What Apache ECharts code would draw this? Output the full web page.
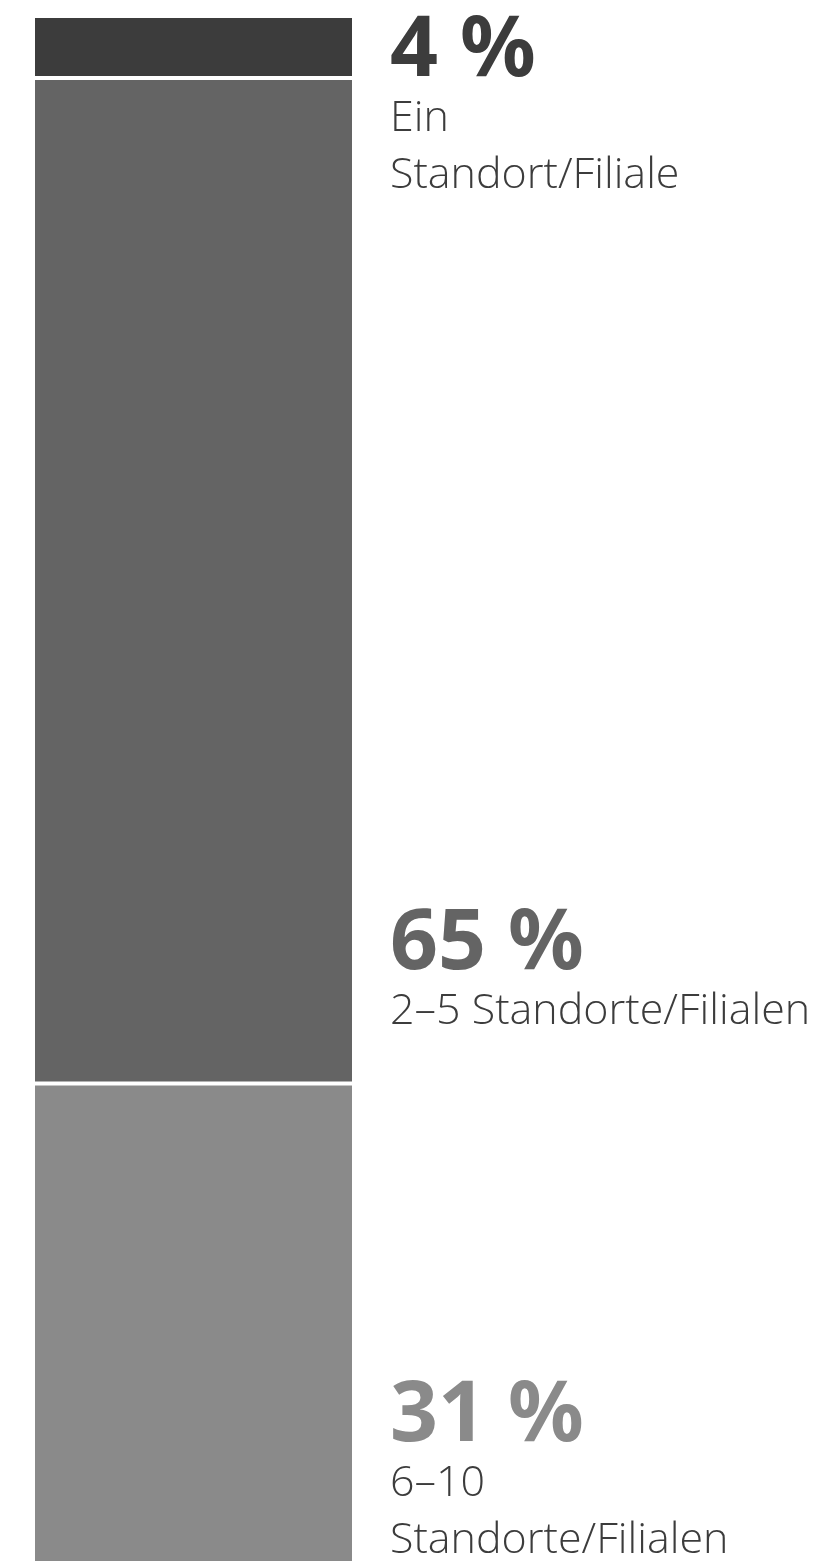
<!DOCTYPE html>
<html>
<head>
<meta charset="utf-8">
<script src="https://cdn.jsdelivr.net/npm/echarts@6/dist/echarts.min.js"></script>
<style>
  html, body { margin: 0; padding: 0; background: #ffffff; }
  #chart { width: 820px; height: 1563px; }
</style>
</head>
<body>
<div id="chart"></div>
<script>
// ---- data ----
const categories = ['Anzahl Standorte'];
const segmentNames = ['Ein Standort/Filiale', '2–5 Standorte/Filialen', '6–10 Standorte/Filialen'];
const segmentValues = [4, 65, 31];
const headingTexts = ['4 %', '65 %', '31 %'];
const subTexts = ['Ein\nStandort/Filiale', '2–5 Standorte/Filialen', '6–10\nStandorte/Filialen'];

// ---- styling ----
const segmentColors = ['#3c3c3c', '#646464', '#8a8a8a'];
const labelDy = [-1.6, 829.5, 296];

const chart = echarts.init(document.getElementById('chart'), null, { renderer: 'canvas' });

const series = segmentValues.map((v, i) => ({
  name: segmentNames[i],
  type: 'bar',
  stack: 'total',
  barWidth: '100%',
  data: [v],
  itemStyle: { color: segmentColors[i], borderColor: '#ffffff', borderWidth: 2 },
  label: {
    show: true,
    position: [357, labelDy[i]],
    align: 'left',
    verticalAlign: 'top',
    formatter: () => '{h|' + headingTexts[i] + '}\n' +
      subTexts[i].split('\n').map(s => '{s|' + s + '}').join('\n'),
    rich: {
      h: { fontFamily: 'Noto Sans', fontWeight: 'bold', fontSize: 84, lineHeight: 76, color: segmentColors[i] },
      s: { fontFamily: 'Open Sans', fontWeight: 300, fontSize: 43, lineHeight: 57, color: '#3c3c3c' }
    }
  },
  emphasis: { disabled: true }
}));

chart.setOption({
  animation: false,
  grid: { left: 33, right: 466, top: 16, bottom: 0, containLabel: false },
  xAxis: { type: 'category', data: categories, show: false },
  yAxis: { type: 'value', min: 0, max: 100, inverse: true, show: false },
  series: series
});
</script>
</body>
</html>
